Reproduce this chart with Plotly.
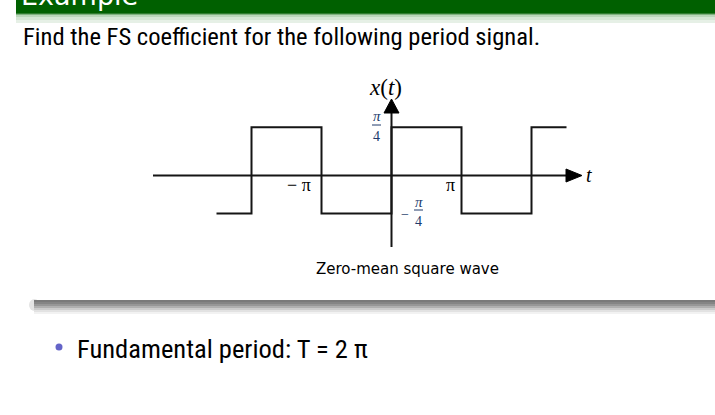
import math
import plotly.graph_objects as go

# ---- data ----
t_breaks_pi = [-2.5, -2.0, -1.0, 0.0, 1.0, 2.0, 2.5]          # break points, in units of pi
HIGH = math.pi / 4
LOW = -0.62                                                   # drawn lower level (labelled -pi/4)
levels = [LOW, HIGH, LOW, HIGH, LOW, HIGH, HIGH]
tick_labels = ["\u2212 \u03c0", "\u03c0"]
tick_pos_pi = [-1.0, 1.0]

title_text = "Find the FS coefficient for the following period signal."
caption_text = "Zero-mean square wave"
bullet_text = "Fundamental period: T = 2 \u03c0"

W, H = 715, 415
# pixel anchors of the drawing
X0_PX, PX_PER_PI = 391.5, 70.0
Y0_PX, PX_PER_UNIT = 175.5, 61.4
PX_PER_RAD = PX_PER_PI / math.pi

def dx(px):
    return (px - X0_PX) / PX_PER_RAD

def dy(py):
    return (Y0_PX - py) / PX_PER_UNIT

def px_(x):
    return x / W

def py_(y):
    return 1 - y / H

t_vals = [v * math.pi for v in t_breaks_pi]

fig = go.Figure()
fig.add_trace(go.Scatter(x=t_vals, y=levels, mode="lines", line=dict(color="#151515", width=2, shape="hv"),
                         hoverinfo="skip", showlegend=False))

shapes = []
# axes
shapes.append(dict(type="line", xref="x", yref="y", x0=dx(153), x1=dx(568), y0=0, y1=0,
                   line=dict(color="#151515", width=2)))
shapes.append(dict(type="line", xref="x", yref="y", x0=0, x1=0, y0=dy(247), y1=dy(112),
                   line=dict(color="#151515", width=2)))
# arrow heads
shapes.append(dict(type="path", xref="x", yref="y",
                   path=f"M {dx(566)},{dy(169)} L {dx(582)},{dy(175.5)} L {dx(566)},{dy(182)} Z",
                   fillcolor="#000", line=dict(color="#000", width=1)))
shapes.append(dict(type="path", xref="x", yref="y",
                   path=f"M {dx(384)},{dy(113)} L {dx(391.5)},{dy(99)} L {dx(399)},{dy(113)} Z",
                   fillcolor="#000", line=dict(color="#000", width=1)))

# green title bar
shapes.append(dict(type="rect", xref="paper", yref="paper", x0=px_(16), x1=1, y0=py_(13), y1=1,
                   fillcolor="#006000", line=dict(width=0), layer="below"))
stripe = [(13, 14, "#2f7d2f"), (14, 15, "#7fb27f"), (15, 17, "#b9d6b9"), (17, 20, "#d4e6d4"),
          (20, 23, "#e6f0e6")]
for a, b, c in stripe:
    shapes.append(dict(type="rect", xref="paper", yref="paper", x0=px_(16), x1=1, y0=py_(b), y1=py_(a),
                       fillcolor=c, line=dict(width=0), layer="below"))

# grey separator bar
grey = [(300, 302, "#7a7a7a"), (302, 304, "#858585"), (304, 306, "#979797"), (306, 308, "#b0b0b0"),
        (308, 310, "#cccccc"), (310, 312, "#e2e2e2"), (312, 314, "#f2f2f2")]
shapes.append(dict(type="circle", xref="paper", yref="paper", x0=px_(29), x1=px_(40), y0=py_(311), y1=py_(299),
                   fillcolor="#e4e4e4", line=dict(width=0), layer="below"))
for a, b, c in grey:
    shapes.append(dict(type="rect", xref="paper", yref="paper", x0=px_(34), x1=1, y0=py_(b), y1=py_(a),
                       fillcolor=c, line=dict(width=0), layer="below"))

# bullet dot
shapes.append(dict(type="circle", xref="paper", yref="paper", x0=px_(55.5), x1=px_(62.5), y0=py_(350.5), y1=py_(343.5),
                   fillcolor="#6464c8", line=dict(width=0)))

# fraction bars
NAVY = "#213a6b"
shapes.append(dict(type="line", xref="paper", yref="paper", x0=px_(372), x1=px_(381), y0=py_(125), y1=py_(125),
                   line=dict(color=NAVY, width=1)))
shapes.append(dict(type="line", xref="paper", yref="paper", x0=px_(414), x1=px_(423), y0=py_(210), y1=py_(210),
                   line=dict(color=NAVY, width=1)))

ann = []
def text(x, y, s, size, family, color="#000", xanchor="center", yanchor="middle"):
    ann.append(dict(x=px_(x), y=py_(y), xref="paper", yref="paper", text=s, showarrow=False,
                    font=dict(size=size, family=family, color=color), xanchor=xanchor, yanchor=yanchor))

SANS = "Liberation Sans Narrow, Roboto Condensed, DejaVu Sans Condensed, Liberation Sans"
SERIF = "Liberation Serif, DejaVu Serif"

text(19, -4, "Example", 27, "DejaVu Sans", color="#ffffff", xanchor="left")
text(21, 36, title_text, 24.6, SANS, xanchor="left")
text(408, 269, caption_text, 15, "DejaVu Sans")
text(75, 348, bullet_text, 26.5, SANS, xanchor="left")

# axis labels
text(386, 87, "<i>x</i>(<i>t</i>)", 23, SERIF)
text(589, 175, "<i>t</i>", 20, SERIF)
label_offsets = [-22.5, -11.5]
for lab, tp, off in zip(tick_labels, tick_pos_pi, label_offsets):
    text(X0_PX + tp * PX_PER_PI + off, 185, lab, 18, SERIF)
# level labels
text(377, 116, "<i>\u03c0</i>", 15, SERIF, color=NAVY)
text(376.5, 136, "4", 14, SERIF, color=NAVY)
text(405, 214, "\u2212", 14, SERIF, color=NAVY)
text(419, 202, "<i>\u03c0</i>", 15, SERIF, color=NAVY)
text(418.5, 221, "4", 14, SERIF, color=NAVY)

fig.update_layout(
    width=W, height=H, margin=dict(l=0, r=0, t=0, b=0),
    paper_bgcolor="white", plot_bgcolor="white",
    xaxis=dict(range=[dx(0), dx(W)], visible=False, fixedrange=True),
    yaxis=dict(range=[dy(H), dy(0)], visible=False, fixedrange=True),
    shapes=shapes, annotations=ann, showlegend=False,
)
fig.write_html("out.html", config={"displayModeBar": False},
               post_script="document.body.style.margin='0px';document.body.style.overflow='hidden';")
